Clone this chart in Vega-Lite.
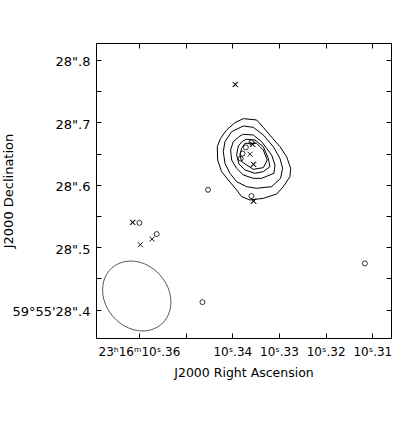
{
  "$schema": "https://vega.github.io/schema/vega-lite/v6.json",
  "width": 295,
  "height": 295,
  "autosize": {"type": "none"},
  "padding": {"left": 96, "top": 43, "right": 25, "bottom": 102},
  "background": "white",
  "config": {
    "view": {"stroke": "black", "strokeWidth": 1},
    "axis": {
      "grid": false, "domain": false, "tickColor": "black", "tickSize": -5, "tickWidth": 1,
      "labelFont": "DejaVu Sans", "labelFontSize": 12, "labelColor": "black",
      "titleFont": "DejaVu Sans", "titleFontSize": 12.5, "titleFontWeight": "normal", "titleColor": "black",
      "labelFlush": false, "labelOverlap": false
    }
  },
  "datasets": {
    "contours": [
      {"level": 1, "ord": 1, "ra": 10.33764, "dec": 28.70598},
      {"level": 1, "ord": 2, "ra": 10.33479, "dec": 28.70385},
      {"level": 1, "ord": 3, "ra": 10.33336, "dec": 28.69209},
      {"level": 1, "ord": 4, "ra": 10.33136, "dec": 28.67447},
      {"level": 1, "ord": 5, "ra": 10.32979, "dec": 28.66111},
      {"level": 1, "ord": 6, "ra": 10.32836, "dec": 28.64509},
      {"level": 1, "ord": 7, "ra": 10.32750, "dec": 28.62639},
      {"level": 1, "ord": 8, "ra": 10.32765, "dec": 28.61303},
      {"level": 1, "ord": 9, "ra": 10.32907, "dec": 28.59701},
      {"level": 1, "ord": 10, "ra": 10.33050, "dec": 28.58526},
      {"level": 1, "ord": 11, "ra": 10.33336, "dec": 28.57831},
      {"level": 1, "ord": 12, "ra": 10.33622, "dec": 28.57564},
      {"level": 1, "ord": 13, "ra": 10.33800, "dec": 28.58098},
      {"level": 1, "ord": 14, "ra": 10.33907, "dec": 28.59167},
      {"level": 1, "ord": 15, "ra": 10.34086, "dec": 28.60769},
      {"level": 1, "ord": 16, "ra": 10.34229, "dec": 28.62105},
      {"level": 1, "ord": 17, "ra": 10.34314, "dec": 28.63974},
      {"level": 1, "ord": 18, "ra": 10.34322, "dec": 28.66111},
      {"level": 1, "ord": 19, "ra": 10.34250, "dec": 28.67447},
      {"level": 1, "ord": 20, "ra": 10.34122, "dec": 28.68782},
      {"level": 1, "ord": 21, "ra": 10.33943, "dec": 28.69957},
      {"level": 2, "ord": 1, "ra": 10.33764, "dec": 28.69423},
      {"level": 2, "ord": 2, "ra": 10.33550, "dec": 28.69209},
      {"level": 2, "ord": 3, "ra": 10.33336, "dec": 28.67981},
      {"level": 2, "ord": 4, "ra": 10.33122, "dec": 28.66111},
      {"level": 2, "ord": 5, "ra": 10.32979, "dec": 28.64241},
      {"level": 2, "ord": 6, "ra": 10.32922, "dec": 28.62639},
      {"level": 2, "ord": 7, "ra": 10.32965, "dec": 28.61036},
      {"level": 2, "ord": 8, "ra": 10.33157, "dec": 28.59701},
      {"level": 2, "ord": 9, "ra": 10.33479, "dec": 28.59434},
      {"level": 2, "ord": 10, "ra": 10.33693, "dec": 28.59701},
      {"level": 2, "ord": 11, "ra": 10.33907, "dec": 28.60502},
      {"level": 2, "ord": 12, "ra": 10.34050, "dec": 28.61838},
      {"level": 2, "ord": 13, "ra": 10.34157, "dec": 28.63440},
      {"level": 2, "ord": 14, "ra": 10.34193, "dec": 28.65310},
      {"level": 2, "ord": 15, "ra": 10.34157, "dec": 28.66912},
      {"level": 2, "ord": 16, "ra": 10.34014, "dec": 28.68515},
      {"level": 3, "ord": 1, "ra": 10.33764, "dec": 28.68088},
      {"level": 3, "ord": 2, "ra": 10.33550, "dec": 28.67981},
      {"level": 3, "ord": 3, "ra": 10.33372, "dec": 28.66912},
      {"level": 3, "ord": 4, "ra": 10.33157, "dec": 28.64776},
      {"level": 3, "ord": 5, "ra": 10.33086, "dec": 28.63173},
      {"level": 3, "ord": 6, "ra": 10.33107, "dec": 28.61838},
      {"level": 3, "ord": 7, "ra": 10.33372, "dec": 28.61036},
      {"level": 3, "ord": 8, "ra": 10.33550, "dec": 28.61036},
      {"level": 3, "ord": 9, "ra": 10.33764, "dec": 28.61571},
      {"level": 3, "ord": 10, "ra": 10.33907, "dec": 28.62639},
      {"level": 3, "ord": 11, "ra": 10.34014, "dec": 28.63974},
      {"level": 3, "ord": 12, "ra": 10.34036, "dec": 28.65577},
      {"level": 3, "ord": 13, "ra": 10.33979, "dec": 28.66912},
      {"level": 3, "ord": 14, "ra": 10.33836, "dec": 28.67821},
      {"level": 4, "ord": 1, "ra": 10.33693, "dec": 28.67286},
      {"level": 4, "ord": 2, "ra": 10.33515, "dec": 28.67179},
      {"level": 4, "ord": 3, "ra": 10.33336, "dec": 28.66111},
      {"level": 4, "ord": 4, "ra": 10.33229, "dec": 28.64241},
      {"level": 4, "ord": 5, "ra": 10.33193, "dec": 28.62906},
      {"level": 4, "ord": 6, "ra": 10.33336, "dec": 28.62105},
      {"level": 4, "ord": 7, "ra": 10.33515, "dec": 28.61838},
      {"level": 4, "ord": 8, "ra": 10.33729, "dec": 28.62372},
      {"level": 4, "ord": 9, "ra": 10.33857, "dec": 28.63333},
      {"level": 4, "ord": 10, "ra": 10.33907, "dec": 28.64776},
      {"level": 4, "ord": 11, "ra": 10.33872, "dec": 28.66218},
      {"level": 4, "ord": 12, "ra": 10.33779, "dec": 28.67019},
      {"level": 5, "ord": 1, "ra": 10.33729, "dec": 28.66645},
      {"level": 5, "ord": 2, "ra": 10.33479, "dec": 28.66645},
      {"level": 5, "ord": 3, "ra": 10.33336, "dec": 28.65577},
      {"level": 5, "ord": 4, "ra": 10.33250, "dec": 28.63974},
      {"level": 5, "ord": 5, "ra": 10.33336, "dec": 28.62746},
      {"level": 5, "ord": 6, "ra": 10.33550, "dec": 28.62479},
      {"level": 5, "ord": 7, "ra": 10.33800, "dec": 28.63707},
      {"level": 5, "ord": 8, "ra": 10.33836, "dec": 28.64776},
      {"level": 5, "ord": 9, "ra": 10.33800, "dec": 28.65844}
    ],
    "beam": [
      {"ord": 1, "ra": 10.355177, "dec": 28.37660},
      {"ord": 2, "ra": 10.356666, "dec": 28.36957},
      {"ord": 3, "ra": 10.358417, "dec": 28.36607},
      {"ord": 4, "ra": 10.360304, "dec": 28.36639},
      {"ord": 5, "ra": 10.362205, "dec": 28.37048},
      {"ord": 6, "ra": 10.363988, "dec": 28.37808},
      {"ord": 7, "ra": 10.365530, "dec": 28.38864},
      {"ord": 8, "ra": 10.366726, "dec": 28.40147},
      {"ord": 9, "ra": 10.367502, "dec": 28.41567},
      {"ord": 10, "ra": 10.367791, "dec": 28.43030},
      {"ord": 11, "ra": 10.367587, "dec": 28.44434},
      {"ord": 12, "ra": 10.366895, "dec": 28.45687},
      {"ord": 13, "ra": 10.365766, "dec": 28.46699},
      {"ord": 14, "ra": 10.364277, "dec": 28.47402},
      {"ord": 15, "ra": 10.362526, "dec": 28.47752},
      {"ord": 16, "ra": 10.360639, "dec": 28.47720},
      {"ord": 17, "ra": 10.358738, "dec": 28.47311},
      {"ord": 18, "ra": 10.356955, "dec": 28.46551},
      {"ord": 19, "ra": 10.355412, "dec": 28.45495},
      {"ord": 20, "ra": 10.354217, "dec": 28.44212},
      {"ord": 21, "ra": 10.353441, "dec": 28.42792},
      {"ord": 22, "ra": 10.353152, "dec": 28.41329},
      {"ord": 23, "ra": 10.353355, "dec": 28.39925},
      {"ord": 24, "ra": 10.354048, "dec": 28.38671}
    ],
    "circles": [
      {"ra": 10.3359, "dec": 28.668},
      {"ra": 10.3371, "dec": 28.660},
      {"ra": 10.3378, "dec": 28.650},
      {"ra": 10.3382, "dec": 28.642},
      {"ra": 10.3359, "dec": 28.582},
      {"ra": 10.3452, "dec": 28.592},
      {"ra": 10.3464, "dec": 28.412},
      {"ra": 10.3116, "dec": 28.474},
      {"ra": 10.3599, "dec": 28.539},
      {"ra": 10.3562, "dec": 28.521}
    ],
    "crosses": [
      {"ra": 10.3394, "dec": 28.761},
      {"ra": 10.3393, "dec": 28.7605},
      {"ra": 10.3357, "dec": 28.665},
      {"ra": 10.3356, "dec": 28.6645},
      {"ra": 10.3362, "dec": 28.649},
      {"ra": 10.3355, "dec": 28.633},
      {"ra": 10.3354, "dec": 28.6325},
      {"ra": 10.3355, "dec": 28.574},
      {"ra": 10.3354, "dec": 28.5735},
      {"ra": 10.3614, "dec": 28.540},
      {"ra": 10.3613, "dec": 28.5395},
      {"ra": 10.3572, "dec": 28.513},
      {"ra": 10.3597, "dec": 28.504}
    ]
  },
  "layer": [
    {
      "data": {"name": "contours"},
      "mark": {"type": "line", "interpolate": "linear-closed", "stroke": "black", "strokeWidth": 1},
      "encoding": {
        "x": {
          "field": "ra", "type": "quantitative",
          "scale": {"domain": [10.306, 10.3692], "reverse": true, "zero": false, "nice": false},
          "axis": {
            "orient": "bottom",
            "values": [10.36, 10.35, 10.34, 10.33, 10.32, 10.31],
            "labelExpr": "datum.value > 10.355 ? '23ʰ16ᵐ10ˢ.36' : (abs(datum.value - 10.35) < 0.002 ? '' : '10ˢ.' + slice(format(datum.value, '.2f'), 3))",
            "labelPadding": 13,
            "title": "J2000 Right Ascension",
            "titlePadding": 9
          }
        },
        "y": {
          "field": "dec", "type": "quantitative",
          "scale": {"domain": [28.3545, 28.8272], "zero": false, "nice": false},
          "axis": {
            "orient": "left",
            "values": [28.4, 28.45, 28.5, 28.55, 28.6, 28.65, 28.7, 28.75, 28.8],
            "labelExpr": "datum.value < 28.41 ? '59°55\\'28\".4' : (abs(datum.value * 10 - round(datum.value * 10)) < 0.01 ? '28\".' + slice(format(datum.value, '.1f'), 3) : '')",
            "labelPadding": 11,
            "labelOffset": 2,
            "labelFontSize": 13,
            "title": "J2000 Declination",
            "titleFontSize": 13,
            "titleX": -88,
            "titleBaseline": "middle"
          }
        },
        "detail": {"field": "level", "type": "nominal"},
        "order": {"field": "ord", "type": "quantitative"}
      }
    },
    {
      "data": {"name": "beam"},
      "mark": {"type": "line", "interpolate": "cardinal-closed", "stroke": "#444444", "strokeWidth": 0.9},
      "encoding": {
        "x": {
          "field": "ra", "type": "quantitative",
          "axis": {"orient": "top", "values": [10.36, 10.35, 10.34, 10.33, 10.32, 10.31], "labels": false, "title": null}
        },
        "y": {
          "field": "dec", "type": "quantitative",
          "axis": {"orient": "right", "values": [28.4, 28.45, 28.5, 28.55, 28.6, 28.65, 28.7, 28.75, 28.8], "labels": false, "title": null}
        },
        "order": {"field": "ord", "type": "quantitative"}
      }
    },
    {
      "data": {"name": "circles"},
      "mark": {"type": "point", "shape": "circle", "filled": false, "stroke": "black", "strokeWidth": 0.8, "size": 25, "opacity": 1},
      "encoding": {
        "x": {"field": "ra", "type": "quantitative", "axis": null},
        "y": {"field": "dec", "type": "quantitative", "axis": null}
      }
    },
    {
      "data": {"name": "crosses"},
      "mark": {"type": "point", "shape": "M-1,-1L1,1M1,-1L-1,1", "filled": false, "stroke": "black", "strokeWidth": 0.9, "size": 25, "opacity": 1},
      "encoding": {
        "x": {"field": "ra", "type": "quantitative", "axis": null},
        "y": {"field": "dec", "type": "quantitative", "axis": null}
      }
    }
  ],
  "resolve": {"axis": {"x": "independent", "y": "independent"}}
}
